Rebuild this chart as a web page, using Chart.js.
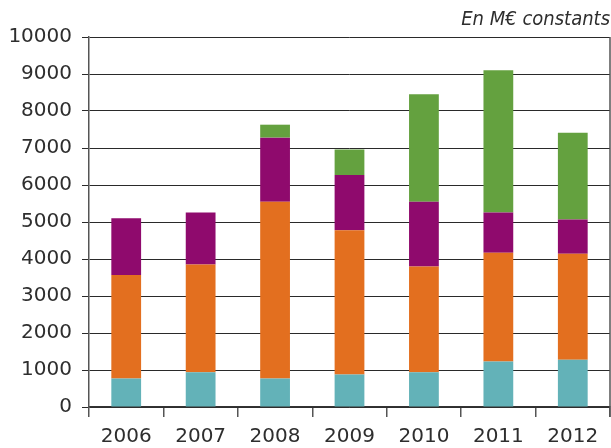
<!DOCTYPE html>
<html>
<head>
<meta charset="utf-8">
<script src="https://cdn.jsdelivr.net/npm/chart.js@4/dist/chart.umd.min.js"></script>
<style>
  html, body { margin: 0; padding: 0; background: #fff; }
  #wrap { width: 611px; height: 448px; }
</style>
</head>
<body>
<div id="wrap"><canvas id="chart" width="611" height="448"></canvas></div>
<script>
// données (M€ constants)
const years = ["2006", "2007", "2008", "2009", "2010", "2011", "2012"];
const teal = [770, 940, 770, 880, 940, 1230, 1280];
const orange = [2800, 2910, 4780, 3900, 2860, 2940, 2860];
const purple = [1530, 1410, 1730, 1490, 1750, 1090, 930];
const green = [0, 0, 350, 690, 2900, 3840, 2340];
const yTicks = [0, 1000, 2000, 3000, 4000, 5000, 6000, 7000, 8000, 9000, 10000];

const textColor = "#2e2e2e";
const numFont = { family: "'DejaVu Sans', sans-serif", size: 20 };

// trait vertical à droite de la zone de tracé
const rightBorder = {
  id: "rightBorder",
  afterDraw(chart) {
    const a = chart.chartArea;
    const ctx = chart.ctx;
    ctx.save();
    ctx.strokeStyle = "#555";
    ctx.lineWidth = 1.5;
    ctx.beginPath();
    ctx.moveTo(a.right, a.top);
    ctx.lineTo(a.right, a.bottom + 10);
    ctx.stroke();
    ctx.restore();
  },
};

function makeSet(label, data, color) {
  return {
    label: label,
    data: data,
    backgroundColor: color,
    borderWidth: 0,
    barPercentage: 0.8,
    categoryPercentage: 0.5,
  };
}

new Chart(document.getElementById("chart").getContext("2d"), {
  type: "bar",
  data: {
    labels: years,
    datasets: [
      makeSet("teal", teal, "#63b2b8"),
      makeSet("orange", orange, "#e36f1f"),
      makeSet("purple", purple, "#8f0a6d"),
      makeSet("green", green, "#64a13f"),
    ],
  },
  options: {
    responsive: false,
    animation: false,
    layout: { padding: { left: 0, right: 1, top: 0, bottom: 0 } },
    plugins: {
      legend: { display: false },
      tooltip: { enabled: false },
      title: {
        display: true,
        text: "En M€ constants",
        align: "end",
        color: textColor,
        font: {
          family: "'DejaVu Sans Condensed', 'DejaVu Sans', sans-serif",
          size: 20,
          style: "italic",
          weight: "normal",
        },
        padding: { top: 8, bottom: 5 },
      },
    },
    scales: {
      x: {
        stacked: true,
        offset: true,
        grid: {
          display: true,
          offset: true,
          drawOnChartArea: false,
          drawTicks: true,
          tickLength: 10,
          color: "#555",
          lineWidth: 1.5,
        },
        border: { display: true, color: "#333", width: 1.5 },
        ticks: { color: textColor, font: numFont, padding: 8, maxRotation: 0 },
        afterFit(scale) {
          scale.height = 41;
        },
      },
      y: {
        stacked: true,
        min: 0,
        max: 10000,
        afterBuildTicks(scale) {
          scale.ticks = yTicks.map((v) => ({ value: v }));
        },
        grid: {
          color: "#2a2a2a",
          lineWidth: 1,
          tickLength: 7,
        },
        border: { display: true, color: "#555", width: 1.5 },
        ticks: {
          color: textColor,
          font: numFont,
          padding: 10,
          callback: (v) => String(v),
        },
        afterFit(scale) {
          scale.width = 89;
        },
      },
    },
  },
  plugins: [rightBorder],
});
</script>
</body>
</html>
